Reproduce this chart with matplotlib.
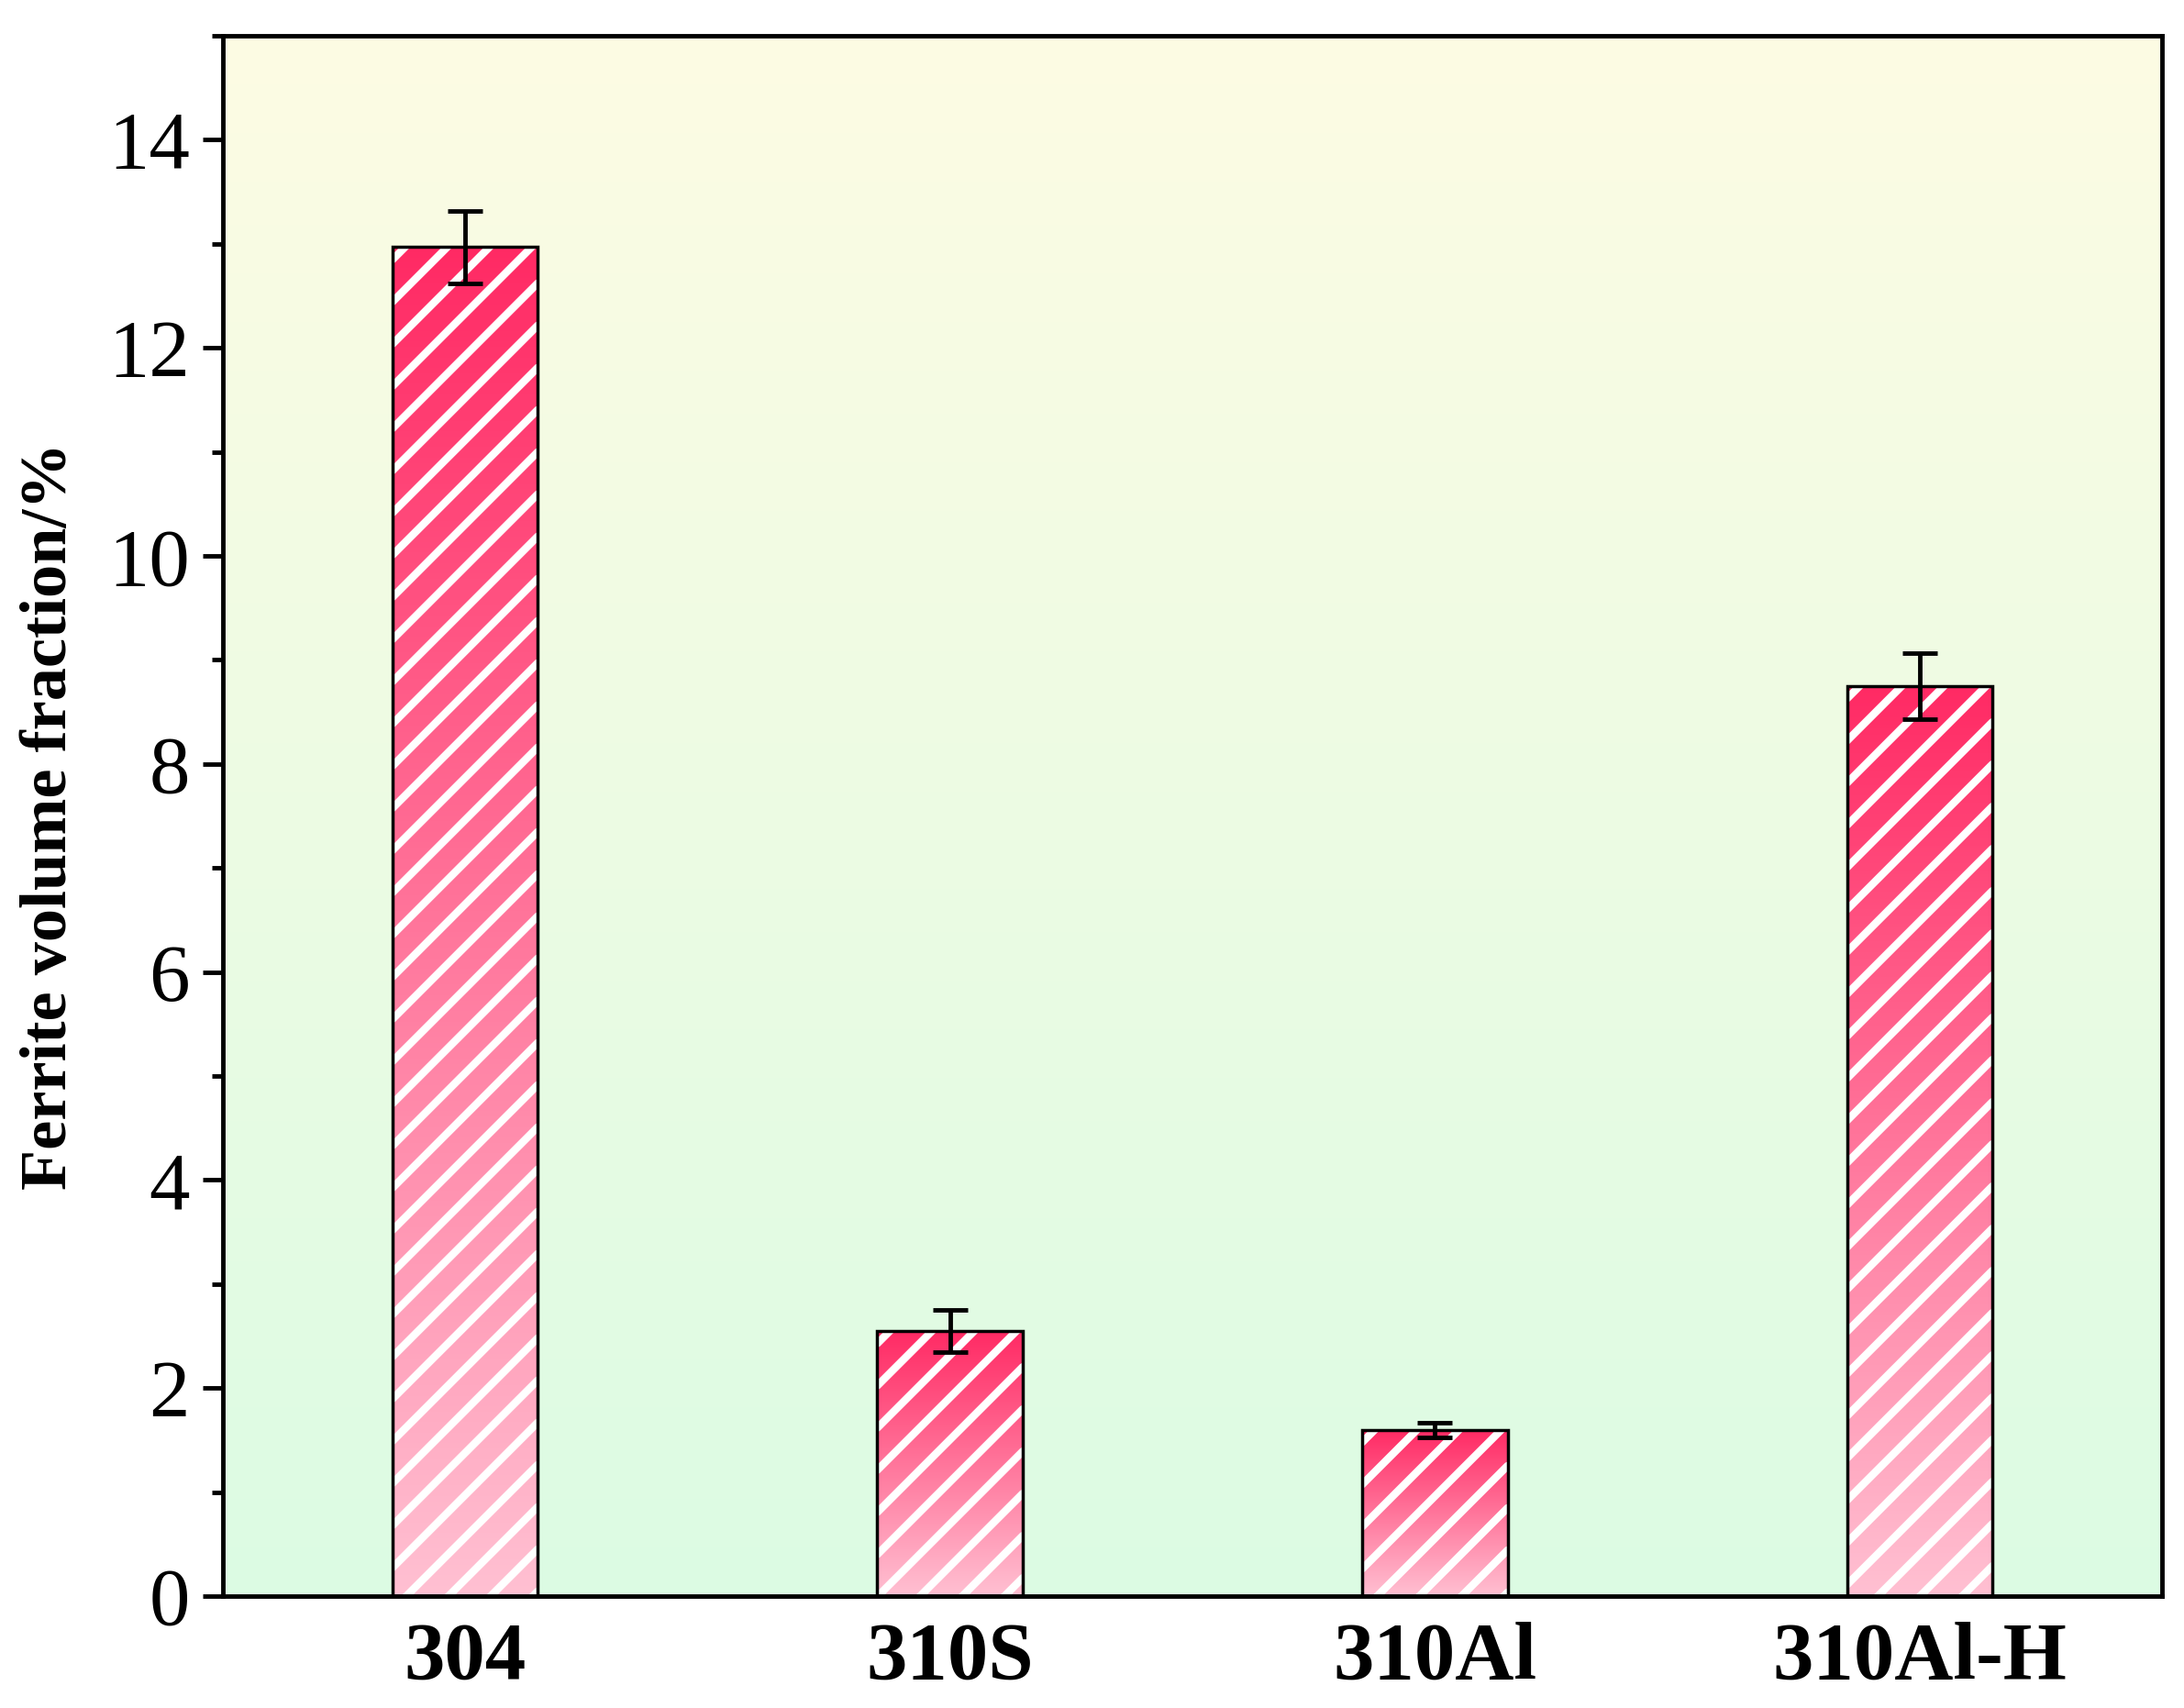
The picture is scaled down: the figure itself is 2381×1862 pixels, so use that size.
import numpy
from matplotlib import pyplot
from matplotlib.colors import LinearSegmentedColormap
from matplotlib.ticker import MultipleLocator

# data
samples = ['304', '310S', '310Al', '310Al-H']
ferrite = [12.97, 2.55, 1.60, 8.75]
ferrite_err = [0.35, 0.20, 0.07, 0.32]

pyplot.rcParams['font.family'] = ['Liberation Serif', 'DejaVu Serif']

fig_w, fig_h, dpi = 23.81, 18.62, 100
ax_rect = [0.102, 0.0655, 0.888, 0.9135]
figure = pyplot.figure(figsize=(fig_w, fig_h), dpi=dpi)
axes = figure.add_axes(ax_rect)

x = numpy.arange(1, len(samples) + 1)
bar_width = 0.3
x_lim = (0.5, 4.5)
y_max = 15

# pixels per data unit, for 45 degree hatch lines
px_x = ax_rect[2] * fig_w * dpi / (x_lim[1] - x_lim[0])
px_y = ax_rect[3] * fig_h * dpi / y_max
hatch_step = 46 / px_y  # vertical spacing of hatch lines in data units

# background gradient, light yellow on top to light green at bottom
bg_cmap = LinearSegmentedColormap.from_list('bg', ['#dcfce4', '#fdfbe3'])
axes.imshow(numpy.linspace(0, 1, 256).reshape(-1, 1), cmap=bg_cmap, origin='lower',
            extent=(*x_lim, 0, y_max), aspect='auto', zorder=0)

# bars with vertical gradient and white diagonal stripes
bar_cmap = LinearSegmentedColormap.from_list('bar', ['#ffc0d2', '#ff2a64'])
bars = axes.bar(x, ferrite, width=bar_width, facecolor='none', linewidth=0, zorder=1)
for bar in bars:
    x0, w, h = bar.get_x(), bar.get_width(), bar.get_height()
    image = axes.imshow(numpy.linspace(0, 1, 256).reshape(-1, 1), cmap=bar_cmap, origin='lower',
                        extent=(x0, x0 + w, 0, h), aspect='auto', zorder=2)
    image.set_clip_path(bar)
    rise = w * px_x / px_y
    for start in numpy.arange(h - hatch_step * 0.3, -rise - hatch_step, -hatch_step):
        stripe, = axes.plot([x0, x0 + w], [start, start + rise], color='white', linewidth=6,
                            solid_capstyle='round', zorder=3)
        stripe.set_clip_path(bar)
axes.bar(x, ferrite, width=bar_width, facecolor='none', edgecolor='black', linewidth=2.5, zorder=4)
axes.errorbar(x, ferrite, yerr=ferrite_err, fmt='none', ecolor='black', elinewidth=3.5,
              capsize=14, capthick=3.5, zorder=5)

axes.set_xlim(*x_lim)
axes.set_ylim(0, y_max)
axes.set_xticks(x)
axes.set_xticklabels(samples, fontsize=64, fontweight='bold')
axes.set_yticks([0, 2, 4, 6, 8, 10, 12, 14])
axes.yaxis.set_minor_locator(MultipleLocator(1))
axes.tick_params(axis='y', which='major', length=16, width=3.5, labelsize=64, direction='out', pad=10)
axes.tick_params(axis='y', which='minor', length=9, width=3.5, direction='out')
axes.tick_params(axis='x', length=0, pad=20)
for spine in axes.spines.values():
    spine.set_linewidth(3.5)
    spine.set_zorder(6)

axes.set_ylabel('Ferrite volume fraction/%', fontsize=52, fontweight='bold', labelpad=22)

figure.savefig('out.png', dpi=dpi)
